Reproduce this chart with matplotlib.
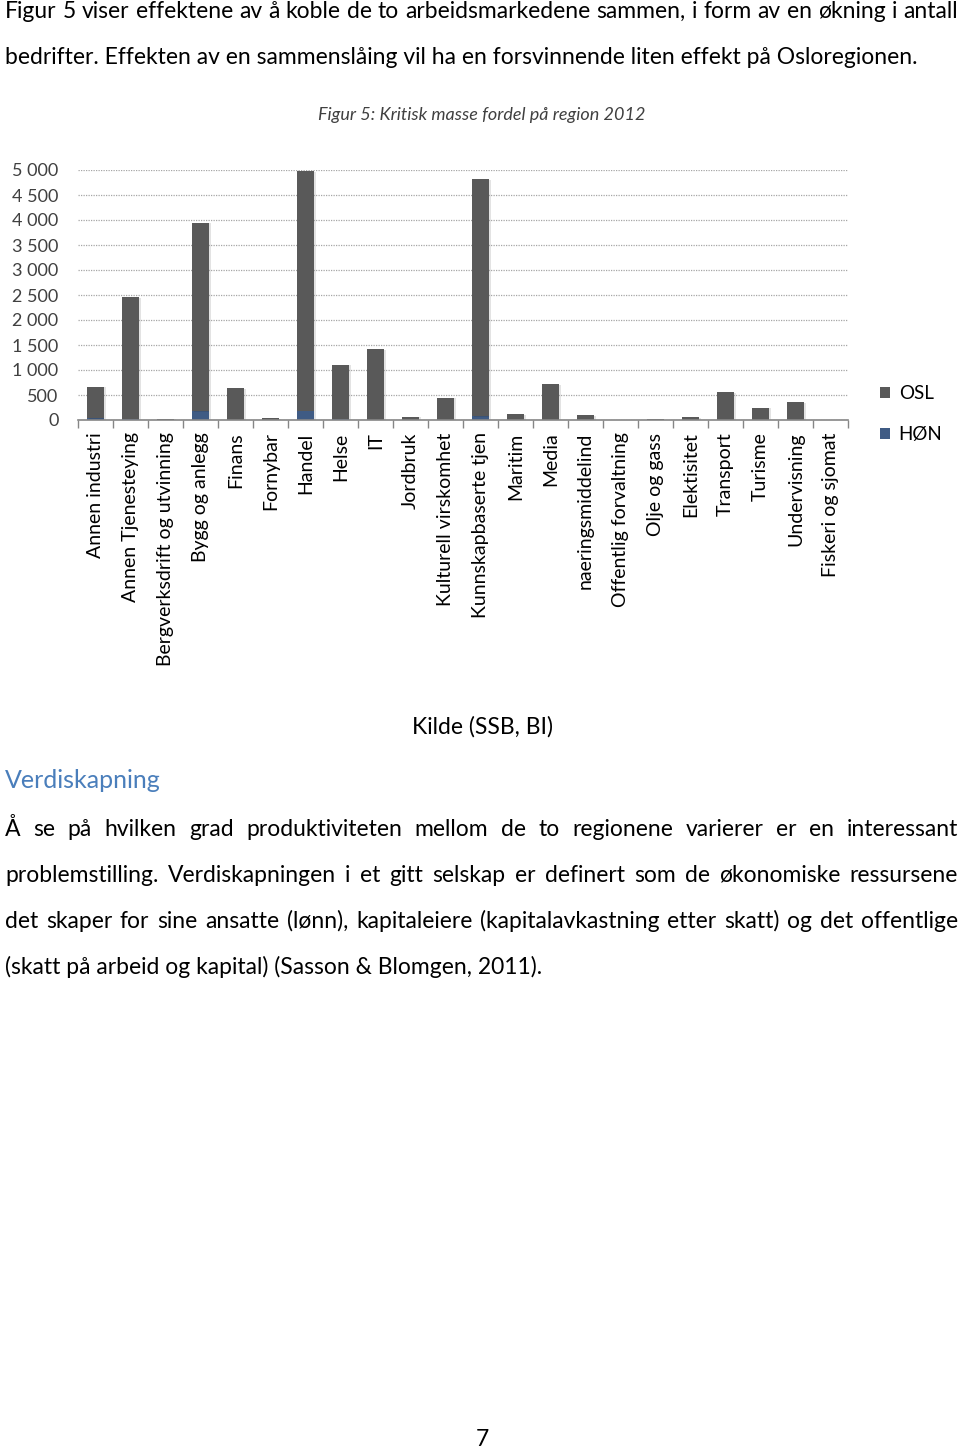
import matplotlib
matplotlib.use("Agg")
import matplotlib.pyplot as plt
import matplotlib.patheffects as pe
import numpy as np

W, H = 960, 1449

categories = ["Annen industri", "Annen Tjenesteying", "Bergverksdrift og utvinning",
              "Bygg og anlegg", "Finans", "Fornybar", "Handel", "Helse", "IT",
              "Jordbruk", "Kulturell virskomhet", "Kunnskapbaserte tjen", "Maritim",
              "Media", "naeringsmiddelind", "Offentlig forvaltning", "Olje og gass",
              "Elektisitet", "Transport", "Turisme", "Undervisning", "Fiskeri og sjomat"]
hon = [40, 25, 5, 180, 10, 3, 190, 15, 10, 5, 8, 75, 5, 5, 5, 0, 2, 3, 10, 5, 5, 0]
osl = [629, 2431, 22, 3769, 633, 37, 4783, 1089, 1409, 62, 440, 4738, 115, 711,
       95, 3, 18, 51, 552, 243, 356, 5]
yticks = [0, 500, 1000, 1500, 2000, 2500, 3000, 3500, 4000, 4500, 5000]

para1 = [("Figur 5 viser effektene av å koble de to arbeidsmarkedene sammen, i form av en økning i antall", True),
         ("bedrifter. Effekten av en sammenslåing vil ha en forsvinnende liten effekt på Osloregionen.", False)]
para2 = [("Å se på hvilken grad produktiviteten mellom de to regionene varierer er en interessant", True),
         ("problemstilling. Verdiskapningen i et gitt selskap er definert som de økonomiske ressursene", True),
         ("det skaper for sine ansatte (lønn), kapitaleiere (kapitalavkastning etter skatt) og det offentlige", True),
         ("(skatt på arbeid og kapital) (Sasson & Blomgen, 2011).", False)]

OSL_C = "#595959"
HON_C = "#3f5b84"
BODY = "Lato"


def fx(px):
    return px / W


def fy(py):
    return 1 - py / H


fig = plt.figure(figsize=(W / 100, H / 100), dpi=100)
fig.patch.set_facecolor("white")
renderer = fig.canvas.get_renderer()

# find a body size where the widest line still fits the page width
probe = fig.text(0, 0, "", fontsize=17.5, family=BODY)
widest = 0
for line, _ in para1 + para2:
    probe.set_text(line)
    widest = max(widest, probe.get_window_extent(renderer).width)
probe.remove()
body_size = min(17.5, 17.5 * 948 / widest)


def text_line(line, y, justify, x0=5, x1=958):
    if not justify:
        fig.text(fx(x0), fy(y), line, fontsize=body_size, family=BODY, va="center", ha="left")
        return
    words = line.split(" ")
    items = [fig.text(0, fy(y), w, fontsize=body_size, family=BODY, va="center", ha="left")
             for w in words]
    widths = [t.get_window_extent(renderer).width for t in items]
    gap = (x1 - x0 - sum(widths)) / (len(words) - 1)
    x = x0
    for t, w in zip(items, widths):
        t.set_x(fx(x))
        x += w + gap


for i, (line, just) in enumerate(para1):
    text_line(line, 11 + 46 * i, just)

fig.text(fx(482), fy(115), "Figur 5: Kritisk masse fordel på region 2012", fontsize=13,
         family=BODY, style="italic", color="#404040", ha="center", va="center")

# diagram
ax = fig.add_axes([fx(78), fy(420), fx(848) - fx(78), fy(170) - fy(420)])
x = np.arange(len(categories))
shadow = [pe.SimplePatchShadow(offset=(1.5, -0.5), alpha=0.12), pe.Normal()]
b1 = ax.bar(x, hon, width=0.48, color=HON_C, label="HØN", zorder=3)
b2 = ax.bar(x, osl, width=0.48, bottom=hon, color=OSL_C, label="OSL", zorder=3)
for r in list(b1) + list(b2):
    r.set_path_effects(shadow)

ax.set_xlim(-0.5, len(categories) - 0.5)
ax.set_ylim(0, 5000)
ax.set_yticks(yticks)
ax.set_yticklabels([f"{v:,}".replace(",", " ") for v in yticks])
ax.tick_params(axis="y", length=0, pad=14, labelsize=13, labelcolor="#404040")
for lab in ax.get_yticklabels():
    lab.set_family("Lato")
ax.set_xticks(x)
ax.set_xticklabels(categories, rotation=90, family="Lato", fontsize=14)
ax.set_xticks(np.arange(len(categories) + 1) - 0.5, minor=True)
ax.tick_params(axis="x", which="major", length=0, pad=9)
ax.tick_params(axis="x", which="minor", length=6, color="#868686", width=1)
ax.yaxis.grid(True, color="#a6a6a6", linestyle=(0, (1, 1)), linewidth=0.9, zorder=0)
for s in ["top", "right", "left"]:
    ax.spines[s].set_visible(False)
ax.spines["bottom"].set_color("#868686")
ax.spines["bottom"].set_linewidth(1.2)
ax.spines["bottom"].set_zorder(4)
ax.set_axisbelow(True)

leg = ax.legend(handles=[b2, b1], loc="upper left", bbox_to_anchor=(fx(880), fy(385)),
                bbox_transform=fig.transFigure, frameon=False, borderpad=0, borderaxespad=0,
                handlelength=0.55, handleheight=0.55, handletextpad=0.45, labelspacing=1.3,
                prop={"family": "Lato", "size": 13.5})
for h in leg.legend_handles:
    h.set_path_effects([])

fig.text(fx(482), fy(727), "Kilde (SSB, BI)", fontsize=body_size, family=BODY,
         ha="center", va="center")
fig.text(fx(5), fy(780), "Verdiskapning", fontsize=body_size + 1.5, family=BODY,
         color="#4a7ebb", ha="left", va="center")

for i, (line, just) in enumerate(para2):
    text_line(line, 829 + 46 * i, just)

fig.text(fx(482), fy(1440), "7", fontsize=body_size, family=BODY, ha="center", va="center")

fig.savefig("out.png", dpi=100)
